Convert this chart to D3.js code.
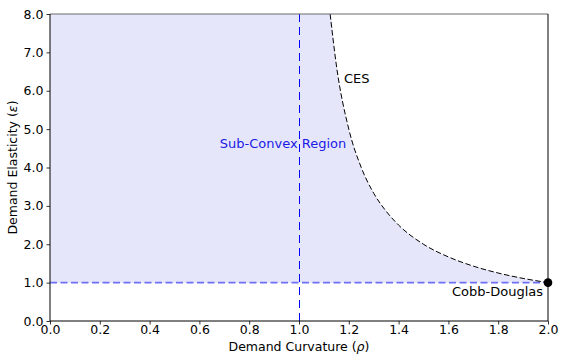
<!DOCTYPE html>
<html><head><meta charset="utf-8">
<script src="https://cdn.jsdelivr.net/npm/d3@7"></script>
<style>body{margin:0;background:#fff}svg{display:block}text{font-family:"DejaVu Sans",sans-serif}</style>
</head><body><svg id="c" width="561" height="354"></svg>
<script>
// Data
const curvatureCES = [1.125, 1.15, 1.2, 1.25, 1.3, 1.35, 1.4, 1.5, 1.6, 1.7, 1.8, 1.9, 2.0];
const elasticityCES = [8.0, 6.67, 5.0, 4.0, 3.33, 2.86, 2.5, 2.0, 1.67, 1.43, 1.25, 1.11, 1.0];
const xTicks = [0, 0.2, 0.4, 0.6, 0.8, 1.0, 1.2, 1.4, 1.6, 1.8, 2.0];
const yTicks = [0, 1, 2, 3, 4, 5, 6, 7, 8];
const cobbDouglas = [2.0, 1.0];
const refElasticity = 1.0;
const refCurvature = 1.0;

const svg = d3.select("#c");
const m = {l: 50, r: 13, t: 14, b: 33};
const W = 561, H = 354;
const x = d3.scaleLinear().domain([0, 2]).range([m.l, W - m.r]);
const y = d3.scaleLinear().domain([0, 8]).range([H - m.b, m.t]);

svg.append("defs").append("clipPath").attr("id", "clip")
  .append("rect").attr("x", m.l).attr("y", m.t).attr("width", x(2) - m.l).attr("height", y(0) - m.t);

const ces = curvatureCES.map((c, i) => [c, elasticityCES[i]]);
const g = svg.append("g").attr("clip-path", "url(#clip)");

// shaded sub-convex region
const fillPts = [[0, 8]].concat(ces);
g.append("path")
  .attr("d", d3.line().x(d => x(d[0])).y(d => y(d[1])).curve(d3.curveMonotoneX)(fillPts) +
        "L" + x(2) + "," + y(refElasticity) + "L" + x(0) + "," + y(refElasticity) + "Z")
  .attr("fill", "#e6e6fa");

// horizontal line at elasticity 1
g.append("line").attr("x1", x(0)).attr("x2", x(2)).attr("y1", y(refElasticity)).attr("y2", y(refElasticity))
  .attr("stroke", "#6f6ff5").attr("stroke-width", 1.6).attr("stroke-dasharray", "7,3.5");

// vertical line at curvature 1
g.append("line").attr("x1", x(refCurvature) + 0.5).attr("x2", x(refCurvature) + 0.5).attr("y1", y(0)).attr("y2", y(8))
  .attr("stroke", "#0000ff").attr("stroke-width", 1).attr("stroke-dasharray", "8,5");

// CES curve
g.append("path").datum(ces)
  .attr("d", d3.line().x(d => x(d[0])).y(d => y(d[1])).curve(d3.curveMonotoneX))
  .attr("fill", "none").attr("stroke", "#000").attr("stroke-width", 1).attr("stroke-dasharray", "5.5,2.5");

// Axes
const xa = svg.append("g").attr("transform", `translate(0,${y(0)})`)
  .call(d3.axisBottom(x).tickValues(xTicks).tickFormat(d3.format(".1f")).tickSize(3.5).tickSizeOuter(0));
const ya = svg.append("g").attr("transform", `translate(${m.l},0)`)
  .call(d3.axisLeft(y).tickValues(yTicks).tickFormat(d3.format(".1f")).tickSize(3.5).tickSizeOuter(0));
[xa, ya].forEach(a => {
  a.select(".domain").remove();
  a.selectAll("text").attr("font-size", 12.5).attr("fill", "#000").style("font-family", "DejaVu Sans");
  a.selectAll("line").attr("stroke", "#000").attr("stroke-width", 0.8);
});
xa.selectAll("text").attr("y", 4).attr("dy", "0.71em");

// spines
svg.append("line").attr("x1", m.l).attr("x2", x(2)).attr("y1", y(8)).attr("y2", y(8)).attr("stroke", "#6a6a6a").attr("stroke-width", 1);
svg.append("line").attr("x1", x(2)).attr("x2", x(2)).attr("y1", y(8)).attr("y2", y(0)).attr("stroke", "#000").attr("stroke-width", 1);
svg.append("line").attr("x1", m.l).attr("x2", x(2)).attr("y1", y(0)).attr("y2", y(0)).attr("stroke", "#000").attr("stroke-width", 1);
svg.append("line").attr("x1", m.l).attr("x2", m.l).attr("y1", y(8)).attr("y2", y(0)).attr("stroke", "#000").attr("stroke-width", 1);

// Cobb-Douglas point
svg.append("circle").attr("cx", x(cobbDouglas[0])).attr("cy", y(cobbDouglas[1])).attr("r", 4.3).attr("fill", "#000");

// annotations
svg.append("text").attr("x", 283).attr("y", 148).attr("text-anchor", "middle").attr("font-size", 13)
  .attr("fill", "#1a1ae6").text("Sub-Convex Region");
svg.append("text").attr("x", 344).attr("y", 83).attr("font-size", 13).attr("fill", "#000").text("CES");
svg.append("text").attr("x", 543).attr("y", 296).attr("text-anchor", "end").attr("font-size", 13).attr("fill", "#000").text("Cobb-Douglas");

// axis labels
const xl = svg.append("text").attr("x", x(1)).attr("y", 351).attr("text-anchor", "middle").attr("font-size", 12.5)
  .text("Demand Curvature (");
xl.append("tspan").attr("font-style", "italic").text("ρ");
xl.append("tspan").text(")");
const yl = svg.append("text").attr("transform", `translate(17,${(y(0)+y(8))/2}) rotate(-90)`)
  .attr("text-anchor", "middle").attr("font-size", 12.5).text("Demand Elasticity (");
yl.append("tspan").attr("font-style", "italic").text("ε");
yl.append("tspan").text(")");
</script></body></html>
